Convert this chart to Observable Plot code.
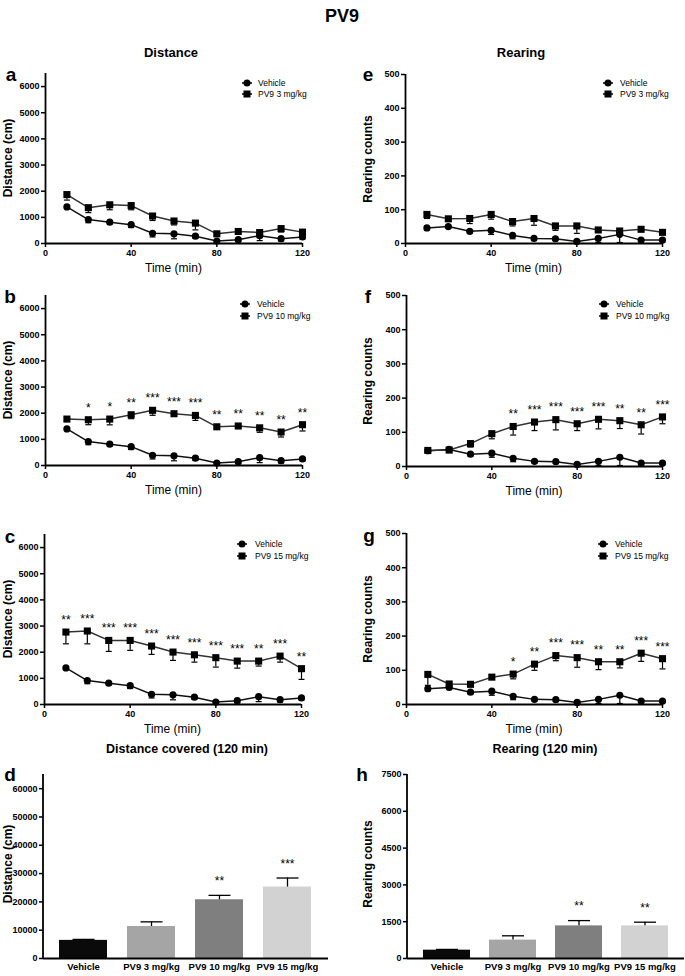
<!DOCTYPE html>
<html><head><meta charset="utf-8">
<script src="https://cdn.jsdelivr.net/npm/d3@7"></script>
<script src="https://cdn.jsdelivr.net/npm/@observablehq/plot@0.6"></script>
<style>
body{margin:0;background:#fff;}
#fig{position:relative;width:685px;height:976px;font-family:"Liberation Sans",Arial,sans-serif;color:#000;overflow:hidden;background:#fff;}
.t{position:absolute;white-space:nowrap;transform:translate(-50%,-50%);line-height:1;}
.yl{position:absolute;white-space:nowrap;transform:translate(-50%,-50%) rotate(-90deg);font-weight:bold;font-size:12px;line-height:1;}
.lt{position:absolute;white-space:nowrap;transform:translate(0,-50%);font-size:8.5px;line-height:1;}
svg.p{position:absolute;}
</style></head><body><div id="fig"></div>
<script>
// ---------------- data ----------------
const times = [10, 20, 30, 40, 50, 60, 70, 80, 90, 100, 110, 120];

const vehicleDist    = [1400, 915, 815, 720, 390, 370, 280, 95, 145, 300, 185, 250];
const vehicleDistSem = [60, 120, 60, 110, 140, 190, 80, 60, 80, 190, 90, 70];
const pv3Dist        = [1870, 1370, 1480, 1450, 1050, 860, 780, 370, 460, 420, 570, 435];
const pv3DistSem     = [210, 190, 190, 160, 170, 150, 260, 80, 100, 180, 130, 130];
const pv10Dist       = [1775, 1750, 1775, 1940, 2110, 1980, 1915, 1480, 1510, 1440, 1280, 1560];
const pv10DistSem    = [70, 190, 220, 150, 190, 100, 190, 80, 60, 170, 190, 240];
const pv15Dist       = [2770, 2810, 2450, 2450, 2235, 2005, 1900, 1790, 1660, 1660, 1850, 1370];
const pv15DistSem    = [450, 490, 420, 380, 320, 320, 280, 360, 270, 190, 230, 410];

const vehicleRear    = [46, 50, 36, 39, 24, 15, 14, 6, 15, 27, 10, 10];
const vehicleRearSem = [6, 5, 5, 12, 10, 5, 5, 3, 12, 24, 5, 5];
const pv3Rear        = [86, 73, 74, 86, 65, 74, 52, 52, 40, 37, 42, 33];
const pv3RearSem     = [12, 6, 15, 14, 13, 20, 13, 22, 5, 5, 6, 5];
const pv10Rear       = [47, 48, 67, 96, 117, 130, 137, 125, 138, 134, 122, 145];
const pv10RearSem    = [5, 5, 10, 15, 25, 25, 30, 20, 28, 23, 27, 20];
const pv15Rear       = [88, 60, 59, 80, 89, 118, 143, 137, 125, 125, 150, 134];
const pv15RearSem    = [32, 5, 5, 5, 14, 18, 15, 28, 23, 18, 24, 30];

const pv3DistStars  = ["", "", "", "", "", "", "", "", "", "", "", ""];
const pv10DistStars = ["", "*", "*", "**", "***", "***", "***", "**", "**", "**", "**", "**"];
const pv15DistStars = ["**", "***", "***", "***", "***", "***", "***", "***", "***", "**", "***", "**"];
const pv3RearStars  = ["", "", "", "", "", "", "", "", "", "", "", ""];
const pv10RearStars = ["", "", "", "", "**", "***", "***", "***", "***", "**", "**", "***"];
const pv15RearStars = ["", "", "", "", "*", "**", "***", "***", "**", "**", "***", "***"];

const groups        = ["Vehicle", "PV9 3 mg/kg", "PV9 10 mg/kg", "PV9 15 mg/kg"];
const groupColors   = ["#0a0a0a", "#a5a5a5", "#7f7f7f", "#d2d2d2"];
const totalDist     = [6400, 11300, 20750, 25250];
const totalDistSem  = [350, 1650, 1550, 3180];
const totalDistStars = ["", "", "**", "***"];
const totalRear     = [340, 750, 1330, 1330];
const totalRearSem  = [30, 175, 215, 150];
const totalRearStars = ["", "", "**", "**"];

const distTicks = [0, 1000, 2000, 3000, 4000, 5000, 6000];
const rearTicks = [0, 100, 200, 300, 400, 500];
const timeTicks = [0, 40, 80, 120];
const totalDistTicks = [0, 10000, 20000, 30000, 40000, 50000, 60000];
const totalRearTicks = [0, 1500, 3000, 4500, 6000, 7500];

// ---------------- helpers ----------------
const fig = document.getElementById("fig");
const FONT = '"Liberation Sans", Arial, sans-serif';

function txt(s, cx, cy, size, bold, cls = "t") {
  const d = document.createElement("div");
  d.className = cls;
  d.textContent = s;
  d.style.left = cx + "px";
  d.style.top = cy + "px";
  if (size) d.style.fontSize = size + "px";
  d.style.fontWeight = bold ? "bold" : "normal";
  fig.appendChild(d);
  return d;
}

const capSymbol = {
  draw(context, size) {
    const r = Math.sqrt(size / Math.PI);
    context.moveTo(-r, 0);
    context.lineTo(r, 0);
  }
};

function rows(means, sems, stars) {
  return times.map((t, i) => ({t, mean: means[i], sem: sems[i], star: stars ? stars[i] : ""}));
}

function place(svg, left, top) {
  svg.classList.add("p");
  svg.style.left = left + "px";
  svg.style.top = top + "px";
  fig.appendChild(svg);
}

function linePanel(cfg) {
  const {svgLeft, svgWidth, fL, fR, fT, fB, yMax, yTicks, veh, drug} = cfg;
  const mT = 10, mB = 20;
  const chart = Plot.plot({
    width: svgWidth,
    height: fB - fT + mT + mB,
    marginLeft: fL - svgLeft,
    marginRight: svgLeft + svgWidth - fR,
    marginTop: mT,
    marginBottom: mB,
    x: {domain: [0, 120]},
    y: {domain: [0, yMax]},
    style: {fontFamily: FONT, fontSize: "9px", fontWeight: "bold", background: "transparent", overflow: "visible"},
    marks: [
      Plot.axisX({ticks: timeTicks, tickSize: 4, tickPadding: 2, tickFormat: d => String(d), label: null, strokeWidth: 1.5}),
      Plot.axisY({ticks: yTicks, tickSize: 4, tickPadding: 2, tickFormat: d => String(d), label: null, strokeWidth: 1.5}),
      Plot.ruleX([0], {strokeWidth: 1.8}),
      Plot.ruleY([0], {strokeWidth: 1.8}),
      // error bars (lower)
      Plot.ruleX(veh, {x: "t", y1: d => d.mean - d.sem, y2: "mean", stroke: "#000", strokeWidth: 1.2}),
      Plot.dot(veh, {x: "t", y: d => d.mean - d.sem, symbol: capSymbol, r: 3, stroke: "#000", fill: "none", strokeWidth: 1.2}),
      Plot.ruleX(drug, {x: "t", y1: d => d.mean - d.sem, y2: "mean", stroke: "#000", strokeWidth: 1.2}),
      Plot.dot(drug, {x: "t", y: d => d.mean - d.sem, symbol: capSymbol, r: 3, stroke: "#000", fill: "none", strokeWidth: 1.2}),
      // lines
      Plot.line(veh, {x: "t", y: "mean", stroke: "#111", strokeWidth: 1.5}),
      Plot.line(drug, {x: "t", y: "mean", stroke: "#333", strokeWidth: 1.5}),
      // markers
      Plot.dot(veh, {x: "t", y: "mean", symbol: "circle", r: 3.6, fill: "#000", stroke: "none"}),
      Plot.dot(drug, {x: "t", y: "mean", symbol: "square", r: 4, fill: "#000", stroke: "none"}),
      // significance
      Plot.text(drug, {x: "t", y: "mean", text: "star", dy: -12, fontSize: 12, fontWeight: "normal", fill: "#000"})
    ]
  });
  place(chart, svgLeft, fT - mT);
}

function barPanel(cfg) {
  const {svgLeft, svgWidth, fL, fR, fT, fB, yMax, yTicks, means, sems, stars, po} = cfg;
  const data = groups.map((g, i) => ({group: g, mean: means[i], sem: sems[i], star: stars[i]}));
  const mT = 12, mB = 18;
  const chart = Plot.plot({
    width: svgWidth,
    height: fB - fT + mT + mB,
    marginLeft: fL - svgLeft,
    marginRight: svgLeft + svgWidth - fR,
    marginTop: mT,
    marginBottom: mB,
    x: {domain: groups, paddingInner: 0.29, paddingOuter: po},
    y: {domain: [0, yMax]},
    color: {domain: groups, range: groupColors},
    style: {fontFamily: FONT, fontSize: "9px", fontWeight: "bold", background: "transparent", overflow: "visible"},
    marks: [
      Plot.axisX({tickSize: 0, tickPadding: 5, label: null, fontSize: 9.5}),
      Plot.axisY({ticks: yTicks, tickSize: 4, tickPadding: 2, tickFormat: d => String(d), label: null, strokeWidth: 1.5}),
      Plot.barY(data, {x: "group", y: "mean", fill: "group"}),
      Plot.ruleX(data, {x: "group", y1: "mean", y2: d => d.mean + d.sem, stroke: "#000", strokeWidth: 1.3}),
      Plot.dot(data, {x: "group", y: d => d.mean + d.sem, symbol: capSymbol, r: 11, stroke: "#000", fill: "none", strokeWidth: 1.3}),
      Plot.ruleY([0], {strokeWidth: 1.8}),
      (index, scales, values, dims) => {
        const l = document.createElementNS("http://www.w3.org/2000/svg", "line");
        l.setAttribute("x1", dims.marginLeft);
        l.setAttribute("x2", dims.marginLeft);
        l.setAttribute("y1", dims.marginTop);
        l.setAttribute("y2", dims.height - dims.marginBottom);
        l.setAttribute("stroke", "#000");
        l.setAttribute("stroke-width", 1.8);
        return l;
      },
      Plot.text(data, {x: "group", y: d => d.mean + d.sem, text: "star", dy: -14, fontSize: 12, fontWeight: "normal", fill: "#000"})
    ]
  });
  place(chart, svgLeft, fT - mT);
}

function legend(mx, tx, y1, y2, label) {
  const ns = "http://www.w3.org/2000/svg";
  [[y1, "circle", "Vehicle"], [y2, "square", label]].forEach(([y, sym, lab]) => {
    const s = document.createElementNS(ns, "svg");
    s.setAttribute("width", 14);
    s.setAttribute("height", 10);
    const ln = document.createElementNS(ns, "line");
    ln.setAttribute("x1", 2); ln.setAttribute("x2", 12);
    ln.setAttribute("y1", 5); ln.setAttribute("y2", 5);
    ln.setAttribute("stroke", "#000"); ln.setAttribute("stroke-width", 1.5);
    s.appendChild(ln);
    let m;
    if (sym === "circle") {
      m = document.createElementNS(ns, "circle");
      m.setAttribute("cx", 7); m.setAttribute("cy", 5); m.setAttribute("r", 3.5);
    } else {
      m = document.createElementNS(ns, "rect");
      m.setAttribute("x", 3.5); m.setAttribute("y", 1.5); m.setAttribute("width", 7); m.setAttribute("height", 7);
    }
    m.setAttribute("fill", "#000");
    s.appendChild(m);
    place(s, mx - 7, y - 5);
    txt(lab, tx, y, 8.5, false, "lt");
  });
}

// ---------------- titles ----------------
txt("PV9", 342, 16, 18, true);
txt("Distance", 171, 52, 13, true);
txt("Rearing", 521, 52, 13, true);
txt("Distance covered (120 min)", 187, 749, 12.5, true);
txt("Rearing (120 min)", 545, 749, 12.5, true);

// panel letters
txt("a", 11, 74, 19, true);
txt("e", 368, 74, 19, true);
txt("b", 10, 296, 19, true);
txt("f", 368, 296, 19, true);
txt("c", 10, 536, 19, true);
txt("g", 369, 535, 19, true);
txt("d", 10, 774, 19, true);
txt("h", 362, 774, 19, true);

// ---------------- line panels ----------------
const vehD = rows(vehicleDist, vehicleDistSem);
const vehR = rows(vehicleRear, vehicleRearSem);

const panels = [
  {svgLeft: 0, svgWidth: 340, fL: 45, fR: 302, fT: 73, fB: 243, yMax: 6500, yTicks: distTicks, veh: vehD, drug: rows(pv3Dist, pv3DistSem, pv3DistStars), yl: "Distance (cm)", leg: [247, 258, 83, 94, "PV9 3 mg/kg"]},
  {svgLeft: 340, svgWidth: 345, fL: 405, fR: 662, fT: 74, fB: 243, yMax: 500, yTicks: rearTicks, veh: vehR, drug: rows(pv3Rear, pv3RearSem, pv3RearStars), yl: "Rearing counts", leg: [608, 620, 83, 94, "PV9 3 mg/kg"]},
  {svgLeft: 0, svgWidth: 340, fL: 45, fR: 302, fT: 295, fB: 465, yMax: 6500, yTicks: distTicks, veh: vehD, drug: rows(pv10Dist, pv10DistSem, pv10DistStars), yl: "Distance (cm)", leg: [245, 257, 304, 316, "PV9 10 mg/kg"]},
  {svgLeft: 340, svgWidth: 345, fL: 406, fR: 662, fT: 295, fB: 466, yMax: 500, yTicks: rearTicks, veh: vehR, drug: rows(pv10Rear, pv10RearSem, pv10RearStars), yl: "Rearing counts", leg: [604, 616, 304, 316, "PV9 10 mg/kg"]},
  {svgLeft: 0, svgWidth: 340, fL: 44, fR: 301, fT: 534, fB: 704, yMax: 6500, yTicks: distTicks, veh: vehD, drug: rows(pv15Dist, pv15DistSem, pv15DistStars), yl: "Distance (cm)", leg: [242, 255, 544, 556, "PV9 15 mg/kg"]},
  {svgLeft: 340, svgWidth: 345, fL: 406, fR: 662, fT: 533, fB: 704, yMax: 500, yTicks: rearTicks, veh: vehR, drug: rows(pv15Rear, pv15RearSem, pv15RearStars), yl: "Rearing counts", leg: [603, 615, 544, 556, "PV9 15 mg/kg"]}
];

panels.forEach(p => {
  linePanel(p);
  txt(p.yl, p.svgLeft === 0 ? 8 : 368, (p.fT + p.fB) / 2, 12, true, "yl");
  txt("Time (min)", (p.fL + p.fR) / 2, p.fB + 25, 12, false);
  legend(...p.leg);
});

// ---------------- bar panels ----------------
barPanel({svgLeft: 0, svgWidth: 340, fL: 43, fR: 328, fT: 774, fB: 958, yMax: 65000, yTicks: totalDistTicks, means: totalDist, sems: totalDistSem, stars: totalDistStars, po: 0.22});
txt("Distance (cm)", 8, 864, 12, true, "yl");
barPanel({svgLeft: 340, svgWidth: 345, fL: 407, fR: 684, fT: 774, fB: 958, yMax: 7500, yTicks: totalRearTicks, means: totalRear, sems: totalRearSem, stars: totalRearStars, po: 0.22});
txt("Rearing counts", 368, 864, 12, true, "yl");
</script>
</body></html>
